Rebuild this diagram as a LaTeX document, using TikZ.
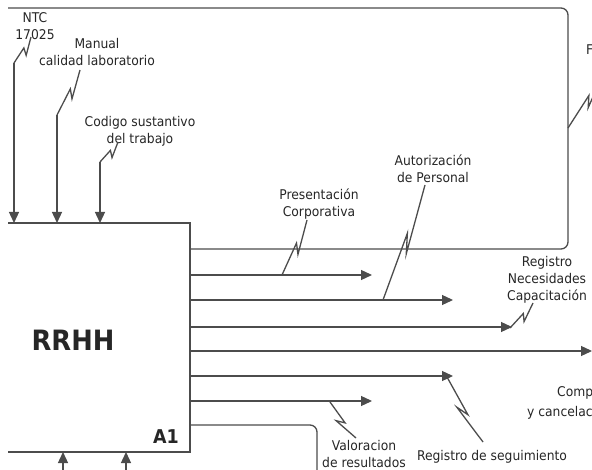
\documentclass[tikz,border=0pt]{standalone}
\usepackage{fontspec}
\setmainfont{DejaVu Sans}[FakeStretch=0.92]
\usetikzlibrary{calc,arrows.meta}
\tikzset{
	flow/.style={draw=black!70,line width=1.3pt},
	tip/.style={-{Triangle[length=11pt,width=10pt]}},
	squig/.style={to path={-- ($(\tikztostart)!0.58!(\tikztotarget)$) -- ($(\tikztostart)!0.42!(\tikztotarget)!6pt!-90:(\tikztotarget)$) -- (\tikztotarget)}},
	lbl/.style={font=\fontsize{13.4}{17}\selectfont,text=black!85,align=center,inner sep=1pt},
}
\begin{document}
\begin{tikzpicture}[x=1pt,y=-1pt]
		\useasboundingbox (0,0) rectangle (592,470);
		\clip (8,0) rectangle (592,470);
		% box
		\draw[flow] (-20,223) rectangle (190,452);
		\node[font=\fontsize{28}{28}\selectfont\bfseries,text=black!85] (rrhh) at (73,340) {RRHH};
		\node[font=\fontsize{19}{19}\selectfont\bfseries,text=black!85] (a1) at (166,437) {A1};
		% controls
		\coordinate (ntcS) at (14,63);
		\coordinate (ntcE) at (14,223);
		\coordinate (manS) at (57,115);
		\coordinate (manE) at (57,223);
		\coordinate (codS) at (100,162);
		\coordinate (codE) at (100,223);
		\draw[flow,tip] (ntcS) -- (ntcE);
		\draw[flow,tip] (manS) -- (manE);
		\draw[flow,tip] (codS) -- (codE);
		\node[lbl] (ntc) at (35,26) {NTC\\17025};
		\node[lbl] (man) at (97,52) {Manual\\calidad laboratorio};
		\node[lbl] (cod) at (140,131) {Codigo sustantivo\\del trabajo};
		\draw[flow] (ntcS) to[squig] (31,37);
		\draw[flow] (manS) to[squig] (80,70);
		\draw[flow] (codS) to[squig] (118,142);
		% mechanisms
		\coordinate (m1) at (63,452);
		\coordinate (m2) at (126,452);
		\draw[flow,tip] (63,475) -- (m1);
		\draw[flow,tip] (126,475) -- (m2);
		% outputs
		\coordinate (o1) at (190,249);
		\coordinate (o2) at (372,275);
		\coordinate (o3) at (453,300);
		\coordinate (o4) at (512,327);
		\coordinate (o5) at (592,351);
		\coordinate (o6) at (453,376);
		\coordinate (o7) at (372,401);
		\coordinate (o8) at (190,425);
		\draw[flow,rounded corners=7pt] (o1) -- (568,249) -- (568,8) -- (-20,8);
		\draw[flow,tip] (190,275) -- (o2);
		\draw[flow,tip] (190,300) -- (o3);
		\draw[flow,tip] (190,327) -- (o4);
		\draw[flow,tip] (190,351) -- (o5);
		\draw[flow,tip] (190,376) -- (o6);
		\draw[flow,tip] (190,401) -- (o7);
		\draw[flow,rounded corners=7pt] (o8) -- (317,425) -- (317,475);
		% output labels
		\node[lbl] (pres) at (319,204) {Presentación\\Corporativa};
		\node[lbl] (aut) at (433,169) {Autorización\\de Personal};
		\node[lbl] (rnc) at (547,280) {Registro\\Necesidades\\Capacitación};
		\node[lbl] (val) at (364,454) {Valoracion\\de resultados};
		\node[lbl] (seg) at (492,457) {Registro de seguimiento};
		\node[lbl,anchor=west] (comp) at (556,393) {Comp};
		\node[lbl,anchor=west] (canc) at (526,413) {y cancelac};
		\node[lbl,anchor=west] (fb) at (585,50) {F};
		\draw[flow] (282,275) to[squig] (307,220);
		\draw[flow] (383,300) to[squig] (425,185);
		\draw[flow] (510,328) to[squig] (533,303);
		\draw[flow] (447,377) to[squig] (483,442);
		\draw[flow] (330,402) to[squig] (356,438);
		\draw[flow] (568,128) to[squig] (604,72);
	\end{tikzpicture}
\end{document}
